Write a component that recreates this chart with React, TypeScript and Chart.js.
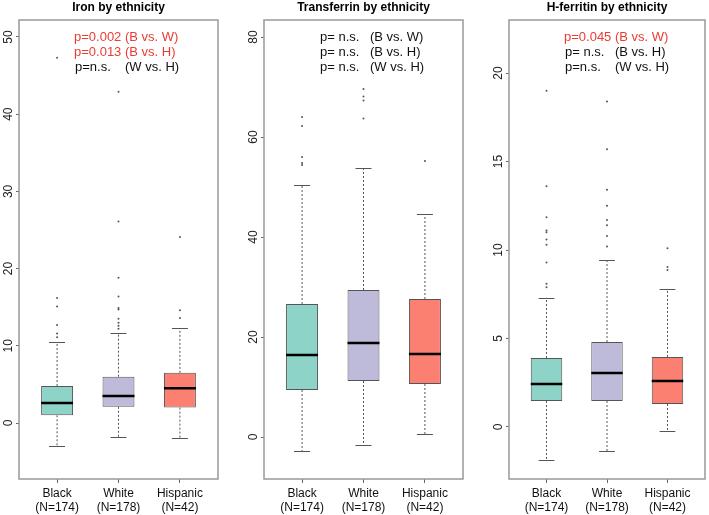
import React, { useEffect, useRef } from 'react';
import { Chart, registerables } from 'chart.js';

Chart.register(...registerables);

const FONT = "'Liberation Sans', Arial, Helvetica, sans-serif";

// ---------- shared data ----------
const categories = ['Black', 'White', 'Hispanic'];
const groupN = [174, 178, 42];
const boxColors = ['#8dd3c7', '#bebada', '#fb8072'];
const comparisons = ['(B vs. W)', '(B vs. H)', '(W vs. H)'];

// ---------- Iron ----------
const ironTitle = 'Iron by ethnicity';
const ironLow = [-3.0, -1.8, -1.9];
const ironQ1 = [1.0, 2.1, 2.0];
const ironMedian = [2.6, 3.5, 4.5];
const ironQ3 = [4.8, 6.0, 6.5];
const ironHigh = [10.5, 11.6, 12.3];
const ironOutBlack = [47.3, 16.2, 15.1, 12.7, 11.6, 11.1];
const ironOutWhite = [42.9, 26.1, 18.8, 16.4, 14.9, 14.7, 13.5, 13.0, 12.6, 12.2];
const ironOutHispanic = [24.1, 14.6, 13.6];
const ironP = ['p=0.002', 'p=0.013', 'p=n.s.'];
const ironTicks = [0, 10, 20, 30, 40, 50];

// ---------- Transferrin ----------
const tfTitle = 'Transferrin by ethnicity';
const tfLow = [-2.8, -1.6, 0.6];
const tfQ1 = [9.4, 11.2, 10.6];
const tfMedian = [16.4, 18.8, 16.6];
const tfQ3 = [26.6, 29.4, 27.6];
const tfHigh = [50.4, 53.8, 44.6];
const tfOutBlack = [64.0, 62.2, 56.0, 54.8, 54.4];
const tfOutWhite = [69.6, 68.1, 67.3, 63.7];
const tfOutHispanic = [55.2];
const tfP = ['p= n.s.', 'p= n.s.', 'p= n.s.'];
const tfTicks = [0, 20, 40, 60, 80];

// ---------- H-ferritin ----------
const hfTitle = 'H-ferritin by ethnicity';
const hfLow = [-1.86, -1.36, -0.23];
const hfQ1 = [1.47, 1.47, 1.3];
const hfMedian = [2.43, 3.05, 2.6];
const hfQ3 = [3.9, 4.8, 3.96];
const hfHigh = [7.3, 9.43, 7.8];
const hfOutBlack = [19.0, 13.6, 11.85, 11.1, 11.0, 10.6, 10.3, 9.3, 8.1, 7.9];
const hfOutWhite = [18.4, 15.7, 13.4, 12.5, 11.7, 11.4, 10.8, 10.2];
const hfOutHispanic = [10.1, 9.04, 8.87];
const hfP = ['p=0.045', 'p= n.s.', 'p=n.s.'];
const hfTicks = [0, 5, 10, 15, 20];

type PanelData = {
  title: string;
  low: number[];
  q1: number[];
  median: number[];
  q3: number[];
  high: number[];
  outliers: number[][];
  p: string[];
  ticks: number[];
  yMin: number;
  yMax: number;
};

const panels: PanelData[] = [
  { title: ironTitle, low: ironLow, q1: ironQ1, median: ironMedian, q3: ironQ3, high: ironHigh,
    outliers: [ironOutBlack, ironOutWhite, ironOutHispanic], p: ironP, ticks: ironTicks, yMin: -7.25, yMax: 52.2 },
  { title: tfTitle, low: tfLow, q1: tfQ1, median: tfMedian, q3: tfQ3, high: tfHigh,
    outliers: [tfOutBlack, tfOutWhite, tfOutHispanic], p: tfP, ticks: tfTicks, yMin: -8.4, yMax: 83.4 },
  { title: hfTitle, low: hfLow, q1: hfQ1, median: hfMedian, q3: hfQ3, high: hfHigh,
    outliers: [hfOutBlack, hfOutWhite, hfOutHispanic], p: hfP, ticks: hfTicks, yMin: -2.94, yMax: 23.0 },
];

const layoutSpecs = [
  { left: 0, width: 236, axisW: 19, padRight: 18 },
  { left: 236, width: 236, axisW: 28, padRight: 9 },
  { left: 472, width: 237, axisW: 37, padRight: 1 },
];

function BoxPanel({ panel, spec }: { panel: PanelData; spec: typeof layoutSpecs[number] }) {
  const ref = useRef<HTMLCanvasElement>(null);

  useEffect(() => {
    const canvas = ref.current;
    if (!canvas) return;

    const extras = {
      id: 'boxExtras',
      afterDatasetsDraw(chart: any) {
        const { ctx, chartArea, scales } = chart;
        const x = scales.x;
        const y = scales.y;
        const meta = chart.getDatasetMeta(0);
        ctx.save();
        panel.median.forEach((m, i) => {
          const cx = x.getPixelForValue(i + 1);
          const bw = meta.data[i].width;
          const half = bw / 2;
          const capHalf = bw / 4;
          // whiskers (dashed)
          ctx.strokeStyle = '#555';
          ctx.lineWidth = 1;
          ctx.setLineDash([2, 2]);
          ctx.beginPath();
          ctx.moveTo(cx, y.getPixelForValue(panel.q3[i]));
          ctx.lineTo(cx, y.getPixelForValue(panel.high[i]));
          ctx.moveTo(cx, y.getPixelForValue(panel.q1[i]));
          ctx.lineTo(cx, y.getPixelForValue(panel.low[i]));
          ctx.stroke();
          // caps
          ctx.setLineDash([]);
          ctx.beginPath();
          const yh = Math.round(y.getPixelForValue(panel.high[i])) + 0.5;
          const yl = Math.round(y.getPixelForValue(panel.low[i])) + 0.5;
          ctx.moveTo(cx - capHalf, yh);
          ctx.lineTo(cx + capHalf, yh);
          ctx.moveTo(cx - capHalf, yl);
          ctx.lineTo(cx + capHalf, yl);
          ctx.stroke();
          // median
          const ym = y.getPixelForValue(m);
          ctx.strokeStyle = '#000';
          ctx.lineWidth = 2.5;
          ctx.beginPath();
          ctx.moveTo(cx - half, ym);
          ctx.lineTo(cx + half, ym);
          ctx.stroke();
        });
        // plot frame
        ctx.strokeStyle = '#999';
        ctx.lineWidth = 1.5;
        ctx.strokeRect(chartArea.left, chartArea.top, chartArea.right - chartArea.left, chartArea.bottom - chartArea.top);
        // p-value notes
        ctx.font = `13px ${FONT}`;
        ctx.textBaseline = 'middle';
        ctx.textAlign = 'left';
        panel.p.forEach((p, k) => {
          const yy = chartArea.top + 17 + k * 15;
          const sig = !p.includes('n.s.');
          if (sig) {
            ctx.fillStyle = '#ec3b32';
            ctx.fillText(`${p} ${comparisons[k]}`, chartArea.left + 55, yy);
          } else {
            ctx.fillStyle = '#111';
            ctx.fillText(p, chartArea.left + 56, yy);
            ctx.fillText(comparisons[k], chartArea.left + 106, yy);
          }
        });
        ctx.restore();
      },
    };

    const outlierPoints = panel.outliers.flatMap((arr, i) => arr.map((v) => ({ x: i + 1, y: v })));

    const chart = new Chart(canvas, {
      type: 'bar',
      data: {
        datasets: [
          {
            type: 'bar',
            data: categories.map((_, i) => ({ x: i + 1, y: [panel.q1[i], panel.q3[i]] })) as any,
            backgroundColor: boxColors,
            borderColor: '#555',
            borderWidth: 1,
            borderSkipped: false,
            barPercentage: 0.52,
            categoryPercentage: 1,
          } as any,
          {
            type: 'scatter',
            data: outlierPoints,
            pointRadius: 1,
            pointBackgroundColor: '#555',
            pointBorderWidth: 0,
            showLine: false,
          } as any,
        ],
      },
      options: {
        responsive: false,
        animation: false,
        devicePixelRatio: 1,
        layout: { padding: { left: 0, right: spec.padRight, top: 0, bottom: 0 } },
        plugins: {
          legend: { display: false },
          tooltip: { enabled: false },
          title: {
            display: true,
            text: panel.title,
            fullSize: false,
            color: '#000',
            font: { family: FONT, size: 12, weight: 'bold', lineHeight: 1.2 },
            padding: { top: 0.5, bottom: 5.1 },
          } as any,
        },
        scales: {
          x: {
            type: 'linear',
            min: 0.38,
            max: 3.62,
            offset: false,
            border: { display: false },
            grid: { display: true, drawOnChartArea: false, drawTicks: true, tickLength: 4, color: '#666', offset: false },
            afterBuildTicks: (scale: any) => {
              scale.ticks = categories.map((_, i) => ({ value: i + 1 }));
            },
            afterFit: (scale: any) => {
              scale.height = 36;
            },
            ticks: {
              autoSkip: false,
              maxRotation: 0,
              minRotation: 0,
              padding: 4,
              color: '#111',
              font: { family: FONT, size: 12, lineHeight: '14px' } as any,
              callback: (v: any) => {
                const i = Math.round(Number(v)) - 1;
                return [categories[i], `(N=${groupN[i]})`];
              },
            },
          } as any,
          y: {
            type: 'linear',
            min: panel.yMin,
            max: panel.yMax,
            border: { display: false },
            grid: { display: true, drawOnChartArea: false, drawTicks: true, tickLength: 3, color: '#666' },
            afterBuildTicks: (scale: any) => {
              scale.ticks = panel.ticks.map((v) => ({ value: v }));
            },
            afterFit: (scale: any) => {
              scale.width = spec.axisW;
            },
            ticks: {
              minRotation: 90,
              maxRotation: 90,
              crossAlign: 'center',
              padding: 1,
              color: '#222',
              font: { family: FONT, size: 12 },
              callback: (v: any) => String(v),
            },
          } as any,
        },
      },
      plugins: [extras],
    });

    return () => chart.destroy();
  }, [panel, spec]);

  return (
    <canvas
      ref={ref}
      width={spec.width}
      height={515}
      style={{ position: 'absolute', left: spec.left, top: 0, width: spec.width, height: 515 }}
    />
  );
}

export default function App() {
  return (
    <div style={{ position: 'fixed', left: 0, top: 0, width: 709, height: 515, background: '#fff', overflow: 'hidden' }}>
      {panels.map((p, i) => (
        <BoxPanel key={i} panel={p} spec={layoutSpecs[i]} />
      ))}
    </div>
  );
}
